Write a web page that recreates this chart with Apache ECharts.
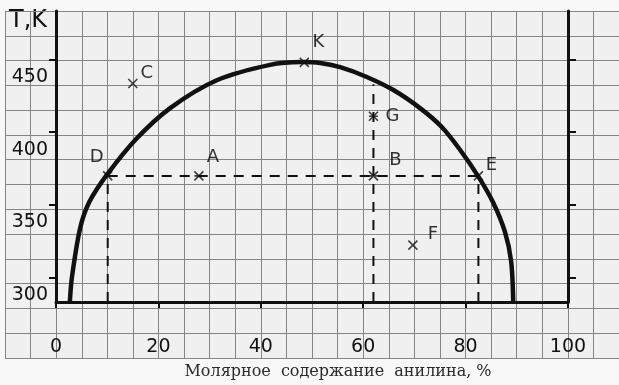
<!DOCTYPE html>
<html>
<head>
<meta charset="utf-8">
<script src="https://cdn.jsdelivr.net/npm/echarts@6/dist/echarts.min.js"></script>
<style>
  html, body { margin: 0; padding: 0; background: #f8f8f8; }
  #chart { width: 619px; height: 385px; }
</style>
</head>
<body>
<div id="chart"></div>
<script>
// кривая взаимной растворимости (состав, %  /  T, K)
var curveX = [2.7, 3.1, 4.7, 6.5, 10.0, 15.7, 22.3, 31.4, 41.8, 48.0, 51.6, 55.5, 60.7, 65.9, 71.1, 75.3, 78.8, 82.5, 85.4, 87.7, 88.9, 89.3]
var curveT = [283.3, 300, 333.8, 352, 371, 395.5, 416.6, 435.7, 446.3, 448.2, 447.6, 444.7, 438, 429, 416.6, 403.8, 388.5, 369.5, 351.5, 331.3, 311.1, 283.3]

// точки на диаграмме
var pointNames = ['K', 'C', 'A', 'D', 'B', 'G', 'E', 'F']
var pointX = [48.5, 15.0, 27.9, 10.1, 62.0, 62.0, 82.5, 69.7]
var pointT = [448, 433.5, 370, 370, 370, 411, 370, 322.4]

// пунктирные линии
var tieLineT = 370
var tieLineX = [10.1, 82.5]
var dropX = [10.1, 62.0, 82.5]
var dropTopT = [370, 433, 370]

var xTicks = [0, 20, 40, 60, 80, 100]
var yTicks = [300, 350, 400, 450]

var T_MIN = 850 / 3
var T_MAX = 1450 / 3
var STEP = 50 / 3

var chart = echarts.init(document.getElementById('chart'))

var hand = 'DejaVu Sans'
var ink = '#111'

function isTick(list, v) {
  return list.some(function(t) { return Math.abs(t - v) < 0.01 })
}

var labelPos = {
  K: [14, -20], C: [14, -10], A: [14, -19], D: [-11, -19],
  B: [22, -16], G: [19, 0], E: [13, -11], F: [20, -11]
}

var dashStyle = { color: ink, width: 2, type: [10, 8] }

var series = [
  {
    name: 'curve',
    type: 'line',
    xAxisIndex: 1,
    yAxisIndex: 1,
    data: curveX.map(function(x, i) { return [x, curveT[i]] }),
    smooth: 0.3,
    symbol: 'none',
    lineStyle: { color: ink, width: 4.5 },
    z: 5
  },
  {
    type: 'line',
    xAxisIndex: 1,
    yAxisIndex: 1,
    data: tieLineX.map(function(x) { return [x, tieLineT] }),
    symbol: 'none',
    lineStyle: dashStyle,
    z: 3
  }
]
dropX.forEach(function(x, i) {
  series.push({
    type: 'line',
    xAxisIndex: 1,
    yAxisIndex: 1,
    data: [[x, T_MIN], [x, dropTopT[i]]],
    symbol: 'none',
    lineStyle: dashStyle,
    z: 3
  })
})
series.push({
  type: 'scatter',
  xAxisIndex: 1,
  yAxisIndex: 1,
  data: pointNames.map(function(n, i) {
    var cross = n === 'C' || n === 'F' || n === 'D' || n === 'E'
    return {
      name: n,
      value: [pointX[i], pointT[i]],
      symbol: cross ? 'path://M0,0L10,10M10,0L0,10' : 'path://M0,0L10,10M10,0L0,10M0,5L10,5',
      label: { offset: labelPos[n] }
    }
  }),
  symbolSize: 9,
  itemStyle: { color: 'rgba(0,0,0,0)', borderColor: ink, borderWidth: 1.6 },
  label: {
    show: true,
    position: 'inside',
    formatter: '{b}',
    fontFamily: hand,
    fontSize: 18,
    color: '#000'
  },
  z: 6
})

var option = {
  animation: false,
  backgroundColor: '#f8f8f8',
  grid: [
    // миллиметровка
    { left: 5, right: 0, top: 11, bottom: 27, show: true, backgroundColor: '#f0f0f0', borderWidth: 0 },
    // сам график
    { left: 56, right: 51, top: 11, bottom: 77 }
  ],
  xAxis: [
    {
      gridIndex: 0, type: 'value', min: -10, max: 110, interval: 5,
      axisLine: { show: false }, axisTick: { show: false }, axisLabel: { show: false },
      splitLine: { show: true, lineStyle: { color: '#858585', width: 1 } }
    },
    {
      gridIndex: 1, type: 'value', min: 0, max: 100, interval: 20,
      axisLine: { show: true, lineStyle: { color: ink, width: 3 } },
      axisTick: { show: true, length: 6, lineStyle: { color: ink, width: 2 } },
      axisLabel: {
        margin: 36, fontFamily: hand, fontSize: 19, color: ink,
        formatter: function(v) { return isTick(xTicks, v) ? String(v) : '' }
      },
      splitLine: { show: false },
      name: 'Молярное  содержание  анилина, %',
      nameLocation: 'middle',
      nameGap: 62,
      nameTextStyle: { fontFamily: 'DejaVu Serif', fontSize: 16, color: '#2a2a2a', padding: [0, 0, 0, 52] }
    }
  ],
  yAxis: [
    {
      gridIndex: 0, type: 'value', min: 250, max: T_MAX, interval: STEP,
      axisLine: { show: false }, axisTick: { show: false }, axisLabel: { show: false },
      splitLine: { show: true, lineStyle: { color: '#858585', width: 1 } }
    },
    {
      gridIndex: 1, type: 'value', min: T_MIN, max: T_MAX, interval: STEP,
      axisLine: { show: true, lineStyle: { color: ink, width: 3 } },
      axisTick: {
        show: true, length: 7, lineStyle: { color: ink, width: 2 },
        customValues: yTicks
      },
      axisLabel: {
        margin: 8, fontFamily: hand, fontSize: 19, color: ink,
        verticalAlign: 'top', padding: [8, 0, 0, 0],
        customValues: yTicks,
        formatter: function(v) { return String(Math.round(v)) }
      },
      splitLine: { show: false }
    },
    {
      gridIndex: 1, type: 'value', position: 'right', min: T_MIN, max: T_MAX, interval: STEP,
      axisLine: { show: true, lineStyle: { color: ink, width: 3 } },
      axisTick: {
        show: true, length: 8, lineStyle: { color: ink, width: 2 },
        customValues: yTicks
      },
      axisLabel: { show: false },
      splitLine: { show: false }
    }
  ],
  graphic: [
    {
      type: 'text',
      left: 9,
      top: 9,
      style: { text: 'T,K', fontFamily: hand, fontSize: 24, fill: ink }
    }
  ],
  series: series
}

chart.setOption(option)
</script>
</body>
</html>
